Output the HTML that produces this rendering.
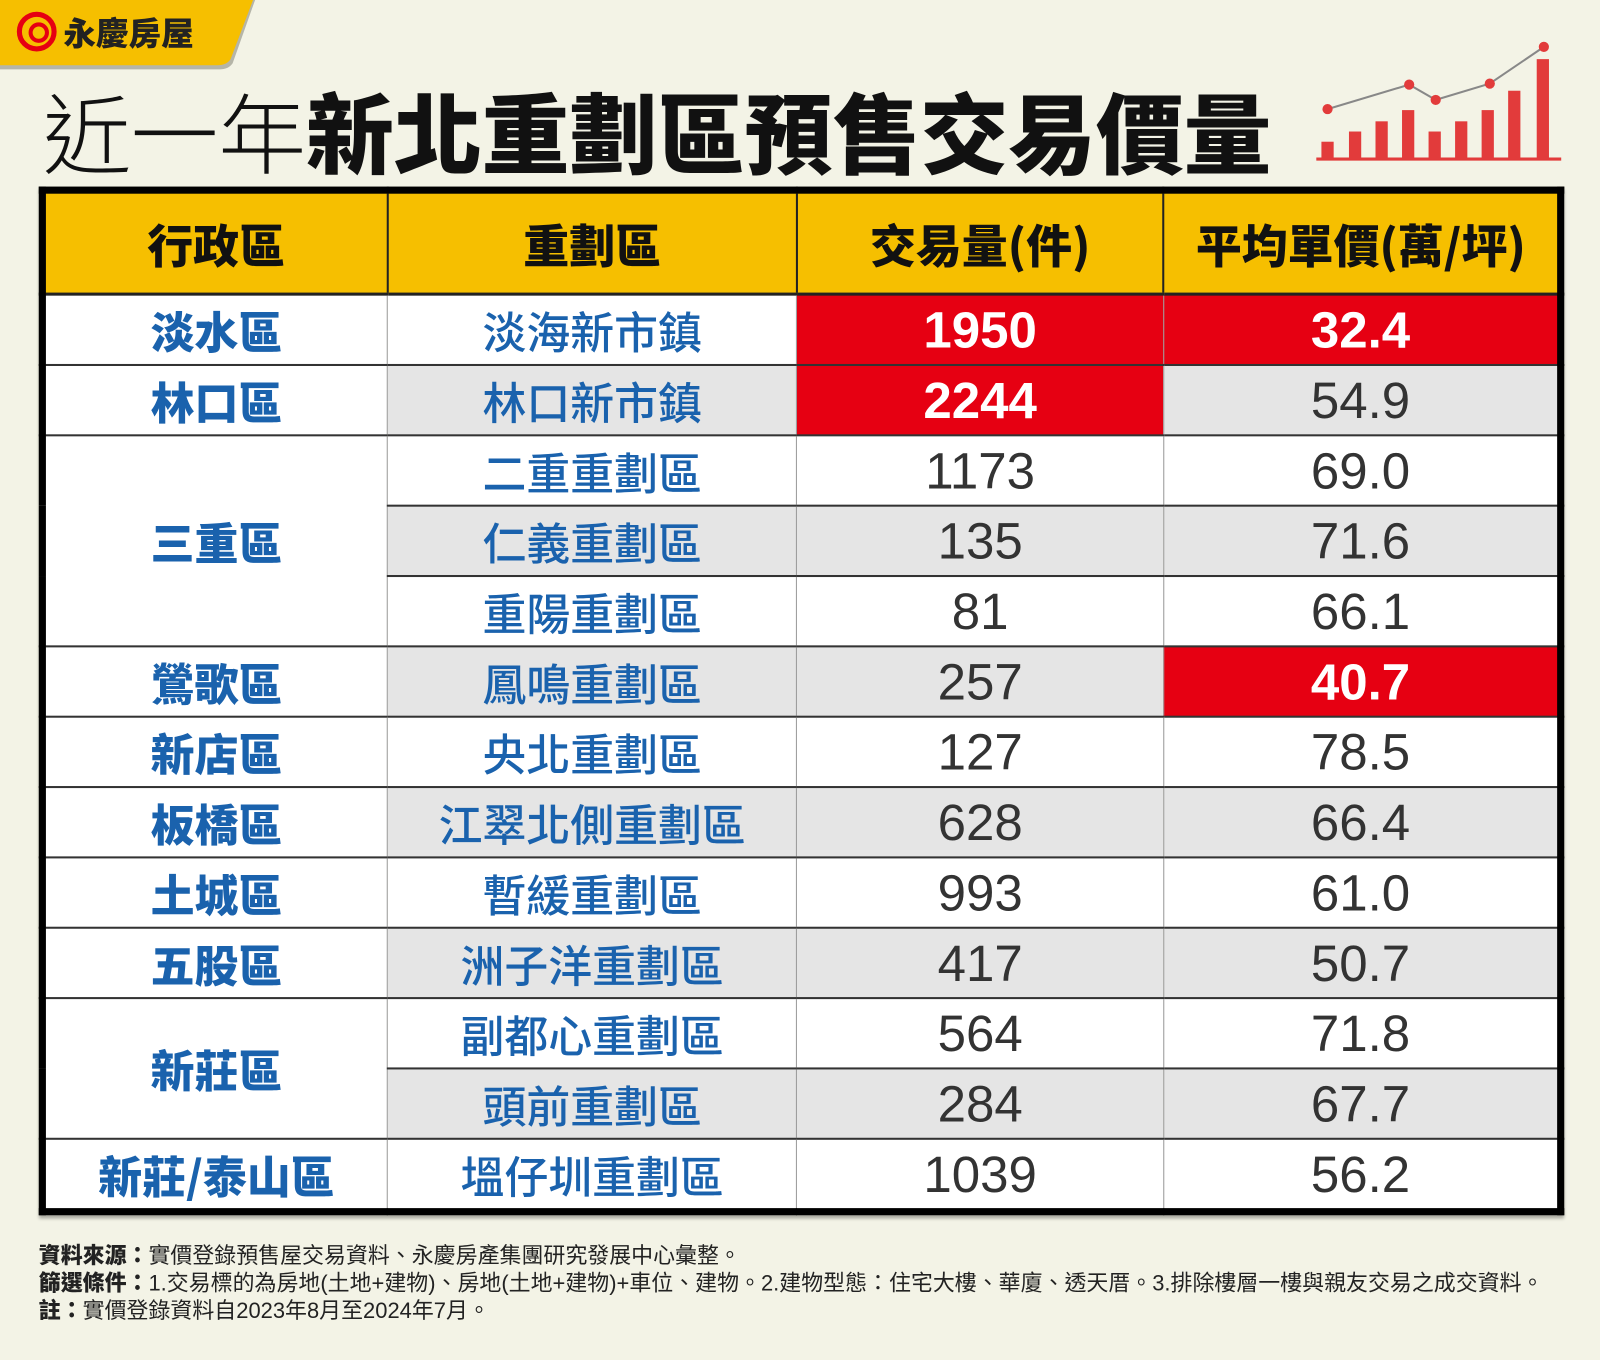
<!DOCTYPE html>
<html><head><meta charset="utf-8">
<style>
html,body{margin:0;padding:0;background:#f3f3e6;width:1600px;height:1360px;overflow:hidden}
#wrap{position:absolute;left:0;top:0;width:1568px;height:1334px;transform-origin:0 0;transform:scale(1.0204,1.0195);font-family:"Liberation Sans","Noto Sans CJK TC",sans-serif}
.abs{position:absolute}
table{position:absolute;left:38px;top:183px;width:1495px;border-collapse:collapse;border:7px solid #000;box-shadow:0 3px 3px rgba(0,0,0,.3)}
td,th{padding:0;text-align:center;height:67px;border:1px solid #999;border-top:2px solid #333}
th{background:#f6bf00;height:97px;font-family:"Noto Sans CJK TC",sans-serif;font-weight:900;font-size:45px;color:#111;border-bottom:3px solid #222;border-left:2px solid #222}
td.d{font-family:"Noto Sans CJK TC",sans-serif;font-weight:900;color:#1a62ad;font-size:43px;background:#fff}
td.z{font-family:"Noto Sans CJK TC",sans-serif;font-weight:500;color:#1a62ad;font-size:43px}
td.n{font-size:50px;color:#333}
tr.g td.z,tr.g td.n{background:#e5e5e5}
tr.w td.z,tr.w td.n{background:#fff}
td.r{background:#e60012!important;color:#fff!important;font-weight:bold}
.foot{left:38px;font-size:21.5px;color:#222;font-family:"Liberation Sans","Noto Sans CJK TC",sans-serif}
.foot b{font-weight:900}
</style></head><body>
<div id="wrap">
<svg class="abs" style="left:0;top:0" width="260" height="72">
<path d="M0 0H250L228 62Q224 68 215 68H0Z" fill="#b5b5a8"/>
<path d="M0 0H248L226 58Q222 64 213 64H0Z" fill="#f6bf00"/>
<circle cx="36" cy="31" r="17" fill="none" stroke="#e60012" stroke-width="5"/>
<circle cx="38" cy="32" r="8" fill="none" stroke="#e60012" stroke-width="4"/>
<text x="62" y="44" font-size="32" font-weight="900" fill="#222" font-family="Noto Sans CJK TC,sans-serif">永慶房屋</text>
</svg>
<div class="abs" style="left:42px;top:67px;font-size:86px;line-height:120px;font-family:'Noto Sans CJK TC',sans-serif;color:#111;white-space:nowrap"><span style="font-weight:200">近一年</span><span style="font-weight:900">新北重劃區預售交易價量</span></div>
<svg class="abs" style="left:1285px;top:35px" width="250" height="130">
<line x1="5" y1="121" x2="245" y2="121" stroke="#e23b3b" stroke-width="3"/>
<g fill="#e23b3b">
<rect x="10" y="104" width="12" height="17"/><rect x="37" y="94" width="12" height="27"/><rect x="63" y="84" width="12" height="37"/><rect x="89" y="73" width="12" height="48"/><rect x="115" y="94" width="12" height="27"/><rect x="141" y="84" width="12" height="37"/><rect x="167" y="73" width="12" height="48"/><rect x="193" y="54" width="12" height="67"/><rect x="221" y="23" width="12" height="98"/>
</g>
<polyline points="16,72 96,48 122,63 175,47 228,11" fill="none" stroke="#888" stroke-width="2"/>
<g fill="#e23b3b"><circle cx="16" cy="72" r="5"/><circle cx="96" cy="48" r="5"/><circle cx="122" cy="63" r="5"/><circle cx="175" cy="47" r="5"/><circle cx="228" cy="11" r="5"/></g>
</svg>
<table>
<colgroup><col style="width:337px"><col style="width:400px"><col style="width:358px"><col style="width:388px"></colgroup>
<tr><th>行政區</th><th>重劃區</th><th>交易量(件)</th><th>平均單價(萬/坪)</th></tr>
<tr class="w"><td class="d">淡水區</td><td class="z">淡海新市鎮</td><td class="n r">1950</td><td class="n r">32.4</td></tr>
<tr class="g"><td class="d">林口區</td><td class="z">林口新市鎮</td><td class="n r">2244</td><td class="n">54.9</td></tr>
<tr class="w"><td class="d" rowspan="3">三重區</td><td class="z">二重重劃區</td><td class="n">1173</td><td class="n">69.0</td></tr>
<tr class="g"><td class="z">仁義重劃區</td><td class="n">135</td><td class="n">71.6</td></tr>
<tr class="w"><td class="z">重陽重劃區</td><td class="n">81</td><td class="n">66.1</td></tr>
<tr class="g"><td class="d">鶯歌區</td><td class="z">鳳鳴重劃區</td><td class="n">257</td><td class="n r">40.7</td></tr>
<tr class="w"><td class="d">新店區</td><td class="z">央北重劃區</td><td class="n">127</td><td class="n">78.5</td></tr>
<tr class="g"><td class="d">板橋區</td><td class="z">江翠北側重劃區</td><td class="n">628</td><td class="n">66.4</td></tr>
<tr class="w"><td class="d">土城區</td><td class="z">暫緩重劃區</td><td class="n">993</td><td class="n">61.0</td></tr>
<tr class="g"><td class="d">五股區</td><td class="z">洲子洋重劃區</td><td class="n">417</td><td class="n">50.7</td></tr>
<tr class="w"><td class="d" rowspan="2">新莊區</td><td class="z">副都心重劃區</td><td class="n">564</td><td class="n">71.8</td></tr>
<tr class="g"><td class="z">頭前重劃區</td><td class="n">284</td><td class="n">67.7</td></tr>
<tr class="w"><td class="d">新莊/泰山區</td><td class="z">塭仔圳重劃區</td><td class="n">1039</td><td class="n">56.2</td></tr>
</table>
<div class="abs foot" style="top:1215px"><b>資料來源：</b>實價登錄預售屋交易資料、永慶房產集團研究發展中心彙整。</div>
<div class="abs foot" style="top:1242px;white-space:nowrap"><b>篩選條件：</b>1.交易標的為房地(土地+建物)、房地(土地+建物)+車位、建物。2.建物型態：住宅大樓、華廈、透天厝。3.排除樓層一樓與親友交易之成交資料。</div>
<div class="abs foot" style="top:1269px"><b>註：</b>實價登錄資料自2023年8月至2024年7月。</div>
</div>
</body></html>
